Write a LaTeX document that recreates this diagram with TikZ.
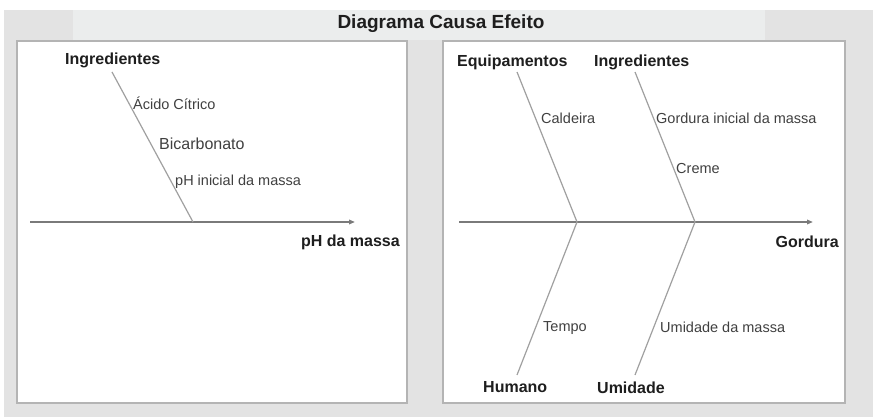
\documentclass[tikz,border=0pt]{standalone}
\usepackage{fontspec}
\setmainfont{Liberation Sans}
\usetikzlibrary{arrows.meta}
\definecolor{bggray}{HTML}{E3E3E3}
\definecolor{bandgray}{HTML}{EBEDED}
\definecolor{panelborder}{HTML}{B4B4B4}
\definecolor{bonegray}{HTML}{A0A0A0}
\definecolor{axisgray}{HTML}{7A7A7A}
\definecolor{txt}{HTML}{1E1E1E}
\begin{document}
\begin{tikzpicture}[x=1pt,y=-1pt,
  panel/.style={draw=panelborder,line width=1.2pt,fill=white},
  bone/.style={draw=bonegray,line width=1.2pt},
  axisline/.style={draw=axisgray,line width=1.5pt,-{Triangle[length=6pt,width=4.5pt]}},
  cat/.style={inner sep=0pt,font=\fontsize{16}{18}\selectfont\bfseries,text=txt},
  cause/.style={inner sep=0pt,font=\fontsize{14.5}{16}\selectfont,text=txt!85},
  bigcause/.style={inner sep=0pt,font=\fontsize{16}{18}\selectfont,text=txt!85},
  titletext/.style={inner sep=0pt,font=\fontsize{19}{21}\selectfont\bfseries,text=txt}]
\useasboundingbox (0,0) rectangle (873,417);
% background
\fill[white] (0,0) rectangle (873,417);
\fill[bggray] (4,10) rectangle (873,417);
\fill[bandgray] (73,10) rectangle (765,40);
\node[titletext] (title) at (441,24) {Diagrama Causa Efeito};
% panels
\fill[black!25] (18,42) rectangle (408,404);
\fill[black!25] (444,42) rectangle (846,404);
\path[panel] (17,41) rectangle (407,403);
\path[panel] (443,41) rectangle (845,403);
% ---------- left diagram ----------
\coordinate (Lst) at (30,222);
\coordinate (Lend) at (355,222);
\coordinate (Ltop) at (112,72);
\coordinate (Ljoin) at (193,222);
\draw[axisline] (Lst) -- (Lend);
\draw[bone] (Ltop) -- (Ljoin);
\node[cat,anchor=west] (Ling) at (65,60) {Ingredientes};
\node[cause,anchor=west] (Lacido) at (133,103) {Ácido Cítrico};
\node[bigcause,anchor=west] (Lbic) at (159,144) {Bicarbonato};
\node[cause,anchor=west] (Lph) at (175,182) {pH inicial da massa};
\node[cat,anchor=east] (Leffect) at (400,242) {pH da massa};
% ---------- right diagram ----------
\coordinate (Rst) at (459,222);
\coordinate (Rend) at (813,222);
\coordinate (RtopA) at (517,72);
\coordinate (RjoinA) at (577,222);
\coordinate (RtopB) at (635,72);
\coordinate (RjoinB) at (695,222);
\coordinate (RbotA) at (517,375);
\coordinate (RbotB) at (635,375);
\draw[axisline] (Rst) -- (Rend);
\draw[bone] (RtopA) -- (RjoinA) -- (RbotA);
\draw[bone] (RtopB) -- (RjoinB) -- (RbotB);
\node[cat,anchor=west] (Requip) at (457,62) {Equipamentos};
\node[cat,anchor=west] (Ring) at (594,62) {Ingredientes};
\node[cause,anchor=west] (Rcald) at (541,118) {Caldeira};
\node[cause,anchor=west] (Rgordini) at (656,118) {Gordura inicial da massa};
\node[cause,anchor=west] (Rcreme) at (676,169) {Creme};
\node[cat,anchor=east] (Reffect) at (839,242) {Gordura};
\node[cause,anchor=west] (Rtempo) at (543,328) {Tempo};
\node[cause,anchor=west] (Rumim) at (660,327) {Umidade da massa};
\node[cat,anchor=west] (Rhum) at (483,387) {Humano};
\node[cat,anchor=west] (Rumid) at (597,388) {Umidade};
\end{tikzpicture}
\end{document}
